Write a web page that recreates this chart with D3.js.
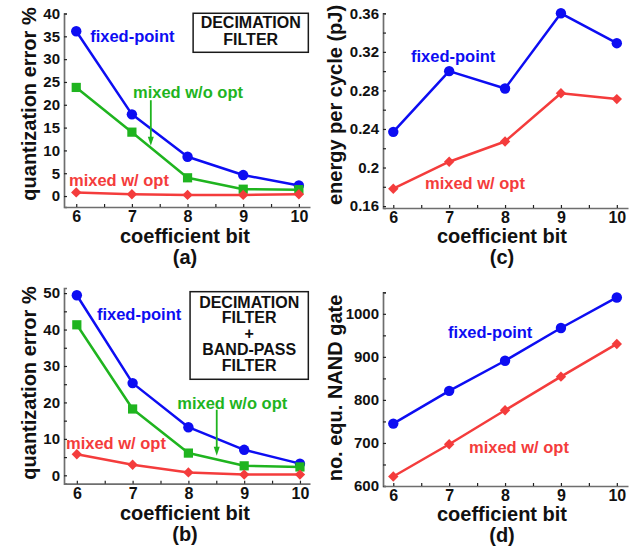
<!DOCTYPE html>
<html>
<head>
<meta charset="utf-8">
<script src="https://cdn.jsdelivr.net/npm/d3@7"></script>
<style>
  body { margin: 0; background: #fff; }
  svg text { font-family: "Liberation Sans", Arial, Helvetica, sans-serif; font-weight: bold; }
</style>
</head>
<body>
<svg id="chart" width="639" height="546"></svg>
<script>
// ---- data ----
const bits = [6, 7, 8, 9, 10];
const bitTicks = [6, 6.5, 7, 7.5, 8, 8.5, 9, 9.5, 10];
const bitLabels = [6, 7, 8, 9, 10];

// (a) decimation filter, quantization error %
const decFixed = [36.1, 17.9, 8.6, 4.6, 2.3];
const decMixedNoOpt = [23.8, 14.0, 4.0, 1.5, 1.4];
const decMixedOpt = [0.8, 0.4, 0.25, 0.25, 0.4];
const errTicksA = [0, 5, 10, 15, 20, 25, 30, 35, 40];

// (b) decimation + band-pass filter, quantization error %
const bpfFixed = [49.4, 25.3, 13.2, 7.0, 3.2];
const bpfMixedNoOpt = [41.3, 18.2, 6.1, 2.6, 2.3];
const bpfMixedOpt = [5.8, 2.9, 0.8, 0.2, 0.2];
const errTicksB = [0, 5, 10, 15, 20, 25, 30, 35, 40, 45, 50];
const errMajorB = [0, 10, 20, 30, 40, 50];

// (c) energy per cycle (pJ)
const energyFixed = [0.237, 0.300, 0.282, 0.360, 0.329];
const energyMixedOpt = [0.178, 0.206, 0.227, 0.277, 0.271];
const energyTicks = [0.16, 0.18, 0.2, 0.22, 0.24, 0.26, 0.28, 0.3, 0.32, 0.34, 0.36];
const energyMajor = [0.16, 0.2, 0.24, 0.28, 0.32, 0.36];

// (d) number of equivalent NAND gates
const gatesFixed = [745, 821, 891, 967, 1038];
const gatesMixedOpt = [622, 697, 776, 854, 930];
const gateTicks = [600, 650, 700, 750, 800, 850, 900, 950, 1000, 1050];
const gateMajor = [600, 700, 800, 900, 1000];

const BLUE = "#0d0df2";
const GREEN = "#1fb41f";
const RED = "#f43c3c";

const svg = d3.select("#chart");

function drawMarker(g, shape, color, cx, cy) {
  if (shape === "circle") {
    g.append("circle").attr("cx", cx).attr("cy", cy).attr("r", 5.2).attr("fill", color);
  } else if (shape === "square") {
    g.append("rect").attr("x", cx - 4.6).attr("y", cy - 4.6)
      .attr("width", 9.2).attr("height", 9.2).attr("fill", color);
  } else {
    const r = 5.2;
    g.append("path")
      .attr("d", `M${cx},${cy - r}L${cx + r},${cy}L${cx},${cy + r}L${cx - r},${cy}Z`)
      .attr("fill", color);
  }
}

function drawPanel(p) {
  const g = svg.append("g");
  const x = d3.scaleLinear().domain(p.xDomain).range(p.xRange);
  const y = d3.scaleLinear().domain(p.yDomain).range(p.yRange);

  const yAxis = d3.axisLeft(y)
    .tickValues(p.yTicks)
    .tickFormat((d) => (p.yMajor.includes(d) ? p.fmt(d) : ""))
    .tickSizeInner(-3)
    .tickSizeOuter(-3)
    .tickPadding(4);
  const xAxis = d3.axisBottom(x)
    .tickValues(bitTicks)
    .tickFormat((d) => (bitLabels.includes(d) ? d : ""))
    .tickSizeInner(-3)
    .tickSizeOuter(0)
    .tickPadding(4);

  const ya = g.append("g").attr("transform", `translate(${p.xRange[0]},0)`).call(yAxis);
  const xa = g.append("g").attr("transform", `translate(0,${p.yRange[0]})`).call(xAxis);
  [ya, xa].forEach((a) => {
    a.select(".domain").attr("stroke", "#6e6e6e").attr("stroke-width", 1.7);
    a.selectAll(".tick line").attr("stroke", "#222").attr("stroke-width", 1.2);
    a.selectAll("text").attr("fill", "#111").attr("font-family", null);
  });
  ya.selectAll("text").attr("font-size", 15);
  xa.selectAll("text").attr("font-size", 16);

  // series
  const line = d3.line().x((d) => x(d.bit)).y((d) => y(d.value));
  p.series.forEach((s) => {
    const pts = bits.map((b, i) => ({ bit: b, value: s.values[i] }));
    g.append("path").datum(pts)
      .attr("d", line)
      .attr("fill", "none")
      .attr("stroke", s.color)
      .attr("stroke-width", 2.5)
      .attr("stroke-linejoin", "round");
    pts.forEach((d) => drawMarker(g, s.shape, s.color, x(d.bit), y(d.value)));
  });

  // arrow
  if (p.arrow) {
    const a = p.arrow;
    const ax = x(a.bit), y1 = y(a.from), y2 = y(a.to);
    g.append("line").attr("x1", ax).attr("x2", ax).attr("y1", y1).attr("y2", y2 - 6)
      .attr("stroke", GREEN).attr("stroke-width", 1.8);
    g.append("path")
      .attr("d", `M${ax - 3},${y2 - 9}L${ax + 3},${y2 - 9}L${ax},${y2}Z`)
      .attr("fill", GREEN);
  }

  // box
  if (p.box) {
    const b = p.box;
    const bx0 = x(b.x0), bx1 = x(b.x1), by0 = y(b.y0), by1 = y(b.y1);
    g.append("rect").attr("x", bx0).attr("y", by0)
      .attr("width", bx1 - bx0).attr("height", by1 - by0)
      .attr("fill", "#fff").attr("stroke", "#1a1a1a").attr("stroke-width", 1.5);
    b.lines.forEach((t, i) => {
      g.append("text")
        .attr("x", (bx0 + bx1) / 2)
        .attr("y", by0 + b.first + i * b.step)
        .attr("text-anchor", "middle")
        .attr("dominant-baseline", "central")
        .attr("font-size", 16)
        .attr("fill", "#111")
        .text(t);
    });
  }

  // series labels
  p.labels.forEach((l) => {
    g.append("text")
      .attr("x", x(l.bit))
      .attr("y", y(l.value))
      .attr("dominant-baseline", "central")
      .attr("font-size", 16.5)
      .attr("fill", l.color)
      .text(l.text);
  });

  // titles
  const cx = p.titleX;
  g.append("text").attr("x", cx).attr("y", p.xTitleY)
    .attr("text-anchor", "middle").attr("dominant-baseline", "central")
    .attr("font-size", 20).attr("fill", "#111").text("coefficient bit");
  g.append("text").attr("x", cx).attr("y", p.xTitleY + 21)
    .attr("text-anchor", "middle").attr("dominant-baseline", "central")
    .attr("font-size", 20).attr("fill", "#111").text(p.tag);
  g.append("text")
    .attr("transform", `translate(${p.yTitleX},${p.yTitleY}) rotate(-90)`)
    .attr("text-anchor", "middle").attr("dominant-baseline", "central")
    .attr("font-size", 20).attr("fill", "#111").text(p.yTitle);
}

// (a)
drawPanel({
  xDomain: [5.78, 10.2], xRange: [64, 310],
  yDomain: [-2.4, 40], yRange: [207, 13.5],
  yTicks: errTicksA, yMajor: errTicksA, fmt: (d) => d,
  series: [
    { values: decFixed, color: BLUE, shape: "circle" },
    { values: decMixedNoOpt, color: GREEN, shape: "square" },
    { values: decMixedOpt, color: RED, shape: "diamond" },
  ],
  labels: [
    { text: "fixed-point", bit: 6.25, value: 35.0, color: BLUE },
    { text: "mixed w/o opt", bit: 7.02, value: 22.8, color: GREEN },
    { text: "mixed w/ opt", bit: 5.87, value: 3.5, color: RED },
  ],
  arrow: { bit: 7.34, from: 21.0, to: 11.0 },
  box: { x0: 8.1, x1: 10.17, y0: 40.05, y1: 31.5, first: 9.5, step: 16.5,
         lines: ["DECIMATION", "FILTER"] },
  titleX: 185, xTitleY: 236, tag: "(a)",
  yTitleX: 29, yTitleY: 104, yTitle: "quantization error %",
});

// (c)
drawPanel({
  xDomain: [5.816, 10.2], xRange: [383, 628],
  yDomain: [0.158, 0.36], yRange: [208, 13.3],
  yTicks: energyTicks, yMajor: energyMajor, fmt: (d) => String(d),
  series: [
    { values: energyFixed, color: BLUE, shape: "circle" },
    { values: energyMixedOpt, color: RED, shape: "diamond" },
  ],
  labels: [
    { text: "fixed-point", bit: 6.317, value: 0.3157, color: BLUE },
    { text: "mixed w/ opt", bit: 6.567, value: 0.184, color: RED },
  ],
  titleX: 502, xTitleY: 236, tag: "(c)",
  yTitleX: 335, yTitleY: 105, yTitle: "energy per cycle (pJ)",
});

// (b)
drawPanel({
  xDomain: [5.77, 10.18], xRange: [64, 310],
  yDomain: [-2.3, 51.4], yRange: [483.7, 288],
  yTicks: errTicksB, yMajor: errMajorB, fmt: (d) => d,
  series: [
    { values: bpfFixed, color: BLUE, shape: "circle" },
    { values: bpfMixedNoOpt, color: GREEN, shape: "square" },
    { values: bpfMixedOpt, color: RED, shape: "diamond" },
  ],
  labels: [
    { text: "fixed-point", bit: 6.36, value: 44.3, color: BLUE },
    { text: "mixed w/o opt", bit: 7.8, value: 19.85, color: GREEN },
    { text: "mixed w/ opt", bit: 5.806, value: 8.87, color: RED },
  ],
  arrow: { bit: 8.508, from: 18.0, to: 5.4 },
  box: { x0: 8.03, x1: 10.15, y0: 50.39, y1: 26.35, first: 10.5, step: 15.8,
         lines: ["DECIMATION", "FILTER", "+", "BAND-PASS", "FILTER"] },
  titleX: 185, xTitleY: 513, tag: "(b)",
  yTitleX: 29, yTitleY: 383, yTitle: "quantization error %",
});

// (d)
drawPanel({
  xDomain: [5.816, 10.2], xRange: [383, 628],
  yDomain: [600, 1050], yRange: [486, 292.3],
  yTicks: gateTicks, yMajor: gateMajor, fmt: (d) => d,
  series: [
    { values: gatesFixed, color: BLUE, shape: "circle" },
    { values: gatesMixedOpt, color: RED, shape: "diamond" },
  ],
  labels: [
    { text: "fixed-point", bit: 6.98, value: 958, color: BLUE },
    { text: "mixed w/ opt", bit: 7.355, value: 690, color: RED },
  ],
  titleX: 502, xTitleY: 514, tag: "(d)",
  yTitleX: 335, yTitleY: 388, yTitle: "no. equ. NAND gate",
});
</script>
</body>
</html>
